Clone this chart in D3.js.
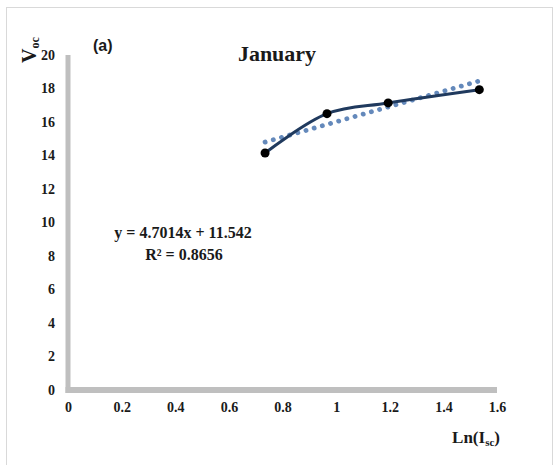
<!DOCTYPE html>
<html>
<head>
<meta charset="utf-8">
<script src="https://cdn.jsdelivr.net/npm/d3@7"></script>
<style>
  body { margin: 0; background: #fff; }
  text { font-family: "Liberation Serif", "Times New Roman", serif; font-weight: bold; fill: #1a1a1a; }
</style>
</head>
<body>
<div id="chart"></div>
<script>
let lnIsc = [0.735, 0.966, 1.194, 1.534];
let voc = [14.15, 16.5, 17.14, 17.93];
// dotted linear trend, ends
let trendX = [0.735, 1.534];
let trendY = [14.8, 18.45];
let eqText = 'y = 4.7014x + 11.542';
let r2Text = 'R\u00b2 = 0.8656';
let xTicks = [0, 0.2, 0.4, 0.6, 0.8, 1, 1.2, 1.4, 1.6];
let yTicks = [0, 2, 4, 6, 8, 10, 12, 14, 16, 18, 20];

let W = 558, H = 465;
let svg = d3.select('#chart').append('svg').attr('width', W).attr('height', H);

// outer frame
svg.append('rect')
  .attr('x', 6.5).attr('y', 7.5).attr('width', 546).attr('height', 480)
  .attr('fill', 'none').attr('stroke', '#d9d9d9').attr('stroke-width', 1);

let x = d3.scaleLinear().domain([0, 1.6]).range([68, 497]);
let y = d3.scaleLinear().domain([0, 20]).range([390, 55]);

// axis lines (thick grey, Excel style)
svg.append('line')
  .attr('x1', x(0)).attr('x2', x(0)).attr('y1', y(20)).attr('y2', y(0) + 3)
  .attr('stroke', '#bfbfbf').attr('stroke-width', 5);
svg.append('line')
  .attr('x1', x(0) - 2.5).attr('x2', x(1.6)).attr('y1', y(0)).attr('y2', y(0))
  .attr('stroke', '#bfbfbf').attr('stroke-width', 6);

// tick labels via d3 axes, with the domain and tick lines hidden
let gx = svg.append('g').attr('transform', 'translate(0,' + (y(0) + 9) + ')')
  .call(d3.axisBottom(x).tickValues(xTicks).tickSize(0).tickFormat(d3.format('')));
let gy = svg.append('g').attr('transform', 'translate(' + (x(0) - 10) + ',0)')
  .call(d3.axisLeft(y).tickValues(yTicks).tickSize(0));
[gx, gy].forEach(g => {
  g.select('.domain').remove();
  g.selectAll('text').attr('font-size', 14)
    .style('font-family', '"Liberation Serif", serif').style('font-weight', 'bold').attr('fill', '#1a1a1a');
});
gx.selectAll('text').attr('dy', '0.71em');

// trend line (dotted)
svg.append('path')
  .attr('d', d3.line()(trendX.map((v, i) => [x(v), y(trendY[i])])))
  .attr('fill', 'none').attr('stroke', '#6489bb').attr('stroke-width', 4.8)
  .attr('stroke-linecap', 'round').attr('stroke-dasharray', '0.1 8.4');

// smoothed data line
let pts = lnIsc.map((v, i) => [x(v), y(voc[i])]);
svg.append('path')
  .attr('d', d3.line().curve(d3.curveCatmullRom.alpha(0.5))(pts))
  .attr('fill', 'none').attr('stroke', '#203a5e').attr('stroke-width', 3);
svg.selectAll('circle.pt').data(pts).enter().append('circle')
  .attr('class', 'pt').attr('cx', d => d[0]).attr('cy', d => d[1]).attr('r', 4.5)
  .attr('fill', '#000');

// title and labels
svg.append('text').attr('x', 277).attr('y', 61).attr('text-anchor', 'middle')
  .attr('font-size', 22).text('January');
svg.append('text').attr('x', 93).attr('y', 51)
  .style('font-family', '"Liberation Sans", Arial, sans-serif').attr('font-size', 16).text('(a)');

svg.append('text').attr('transform', 'translate(36,50) rotate(-90)').attr('text-anchor', 'middle')
  .attr('font-size', 20)
  .call(t => {
    t.append('tspan').text('V');
    t.append('tspan').attr('font-size', 12).attr('dy', 3).text('oc');
  });

svg.append('text').attr('x', 500).attr('y', 443).attr('text-anchor', 'end')
  .attr('font-size', 17)
  .call(t => {
    t.append('tspan').text('Ln(I');
    t.append('tspan').attr('font-size', 11).attr('dy', 3).text('sc');
    t.append('tspan').attr('dy', -3).text(')');
  });

svg.append('text').attr('x', 183).attr('y', 238).attr('text-anchor', 'middle')
  .attr('font-size', 16).text(eqText);
svg.append('text').attr('x', 184).attr('y', 260).attr('text-anchor', 'middle')
  .attr('font-size', 16).text(r2Text);
</script>
</body>
</html>
